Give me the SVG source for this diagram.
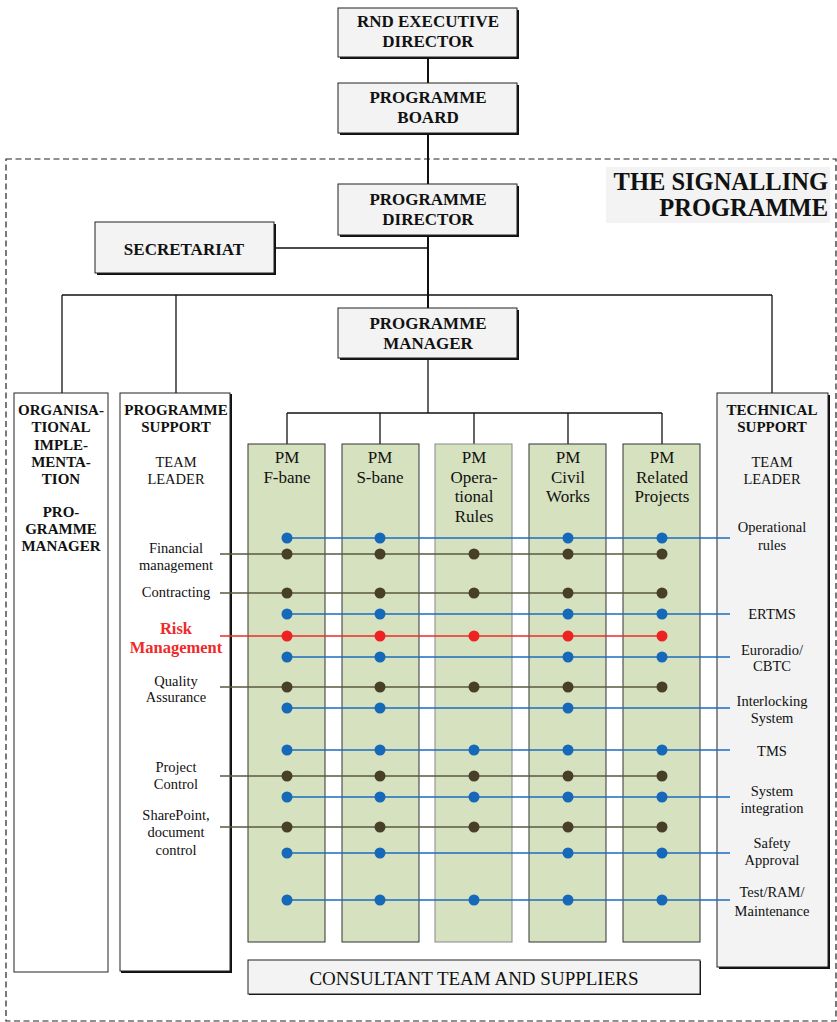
<svg xmlns="http://www.w3.org/2000/svg" width="837" height="1022" viewBox="0 0 837 1022">
<style>
.box{fill:#f2f3f2;stroke:#222;stroke-width:1}
.sh{fill:#111}
.col{fill:#d6e1bf;stroke:#333;stroke-width:1}
.wcol{fill:#fff;stroke:#222;stroke-width:1}
.t{font-family:"Liberation Serif","Times New Roman",serif;fill:#111;text-anchor:middle}
.b{font-weight:bold;font-size:17px}
.bs{font-weight:bold;font-size:15px}
.r{font-size:14.5px}
.pm{font-size:17px}
.ln{stroke:#111;stroke-width:2;fill:none}
.ln1{stroke:#111;stroke-width:1.3;fill:none}
.blue{stroke:#1b6cbe;stroke-width:1.6}
.brown{stroke:#5a5840;stroke-width:1.6}
.red{stroke:#ee2a2a;stroke-width:1.6}
.db{fill:#1668b8}
.dn{fill:#473f28}
.dr{fill:#ee2222}
</style>

<rect x="6" y="159" width="830" height="862" fill="none" stroke="#222" stroke-width="1.2" stroke-dasharray="6,3.5"/>

<g id="title">
<rect x="606" y="167" width="224" height="56" fill="#f2f3f2"/>
<text class="t" x="828" y="190" style="text-anchor:end;font-weight:bold;font-size:24.5px">THE SIGNALLING</text>
<text class="t" x="828" y="216" style="text-anchor:end;font-weight:bold;font-size:24.5px">PROGRAMME</text>
</g>

<g id="connectors">
<line class="ln" x1="428" y1="57" x2="428" y2="83"/>
<line class="ln" x1="428" y1="133" x2="428" y2="184"/>
<line class="ln" x1="428" y1="235" x2="428" y2="308"/>
<line class="ln1" x1="274" y1="248" x2="428" y2="248"/>
<line class="ln1" x1="62" y1="295" x2="772" y2="295"/>
<line class="ln1" x1="62" y1="295" x2="62" y2="393"/>
<line class="ln1" x1="176" y1="295" x2="176" y2="393"/>
<line class="ln1" x1="772" y1="295" x2="772" y2="393"/>
<line class="ln1" x1="428" y1="358" x2="428" y2="413"/>
<line class="ln1" x1="287" y1="413" x2="662" y2="413"/>
<line class="ln1" x1="287" y1="413" x2="287" y2="444"/>
<line class="ln1" x1="380" y1="413" x2="380" y2="444"/>
<line class="ln1" x1="474" y1="413" x2="474" y2="444"/>
<line class="ln1" x1="568" y1="413" x2="568" y2="444"/>
<line class="ln1" x1="662" y1="413" x2="662" y2="444"/>
</g>

<g id="rnd">
<rect class="sh" x="340" y="10" width="179" height="49"/>
<rect class="box" x="338" y="8" width="179" height="49"/>
<text class="t b" x="428" y="27">RND EXECUTIVE</text>
<text class="t b" x="428" y="47">DIRECTOR</text>
</g>
<g id="board">
<rect class="sh" x="340" y="85" width="179" height="50"/>
<rect class="box" x="338" y="83" width="179" height="50"/>
<text class="t b" x="428" y="103">PROGRAMME</text>
<text class="t b" x="428" y="123">BOARD</text>
</g>
<g id="director">
<rect class="sh" x="340" y="186" width="179" height="51"/>
<rect class="box" x="338" y="184" width="179" height="51"/>
<text class="t b" x="428" y="205">PROGRAMME</text>
<text class="t b" x="428" y="225">DIRECTOR</text>
</g>
<g id="secretariat">
<rect class="sh" x="97" y="224" width="179" height="51"/>
<rect class="box" x="95" y="222" width="179" height="51"/>
<text class="t b" x="184" y="255">SECRETARIAT</text>
</g>
<g id="manager">
<rect class="sh" x="340" y="310" width="179" height="50"/>
<rect class="box" x="338" y="308" width="179" height="50"/>
<text class="t b" x="428" y="329">PROGRAMME</text>
<text class="t b" x="428" y="349">MANAGER</text>
</g>

<g id="org">
<rect class="wcol" x="14" y="393" width="94" height="579"/>
<text class="t bs" x="61" y="415">ORGANISA-</text>
<text class="t bs" x="61" y="432">TIONAL</text>
<text class="t bs" x="61" y="450">IMPLE-</text>
<text class="t bs" x="61" y="467">MENTA-</text>
<text class="t bs" x="61" y="484">TION</text>
<text class="t bs" x="61" y="517">PRO-</text>
<text class="t bs" x="61" y="534">GRAMME</text>
<text class="t bs" x="61" y="551">MANAGER</text>
</g>

<g id="support">
<rect class="sh" x="121" y="394" width="111" height="579"/>
<rect class="wcol" x="120" y="393" width="110" height="578"/>
<text class="t bs" x="176" y="415">PROGRAMME</text>
<text class="t bs" x="176" y="432">SUPPORT</text>
<text class="t r" x="176" y="467">TEAM</text>
<text class="t r" x="176" y="484">LEADER</text>
<text class="t r" x="176" y="553">Financial</text>
<text class="t r" x="176" y="570">management</text>
<text class="t r" x="176" y="597">Contracting</text>
<text class="t" x="176" y="634" style="fill:#ee2a2a;font-weight:bold;font-size:16.5px">Risk</text>
<text class="t" x="176" y="653" style="fill:#ee2a2a;font-weight:bold;font-size:16.5px">Management</text>
<text class="t r" x="176" y="686">Quality</text>
<text class="t r" x="176" y="702">Assurance</text>
<text class="t r" x="176" y="772">Project</text>
<text class="t r" x="176" y="789">Control</text>
<text class="t r" x="176" y="820">SharePoint,</text>
<text class="t r" x="176" y="837">document</text>
<text class="t r" x="176" y="855">control</text>
</g>

<g id="technical">
<rect class="sh" x="719" y="395" width="111" height="574"/>
<rect class="box" x="717" y="393" width="111" height="574"/>
<text class="t bs" x="772" y="415">TECHNICAL</text>
<text class="t bs" x="772" y="432">SUPPORT</text>
<text class="t r" x="772" y="467">TEAM</text>
<text class="t r" x="772" y="484">LEADER</text>
<text class="t r" x="772" y="532">Operational</text>
<text class="t r" x="772" y="550">rules</text>
<text class="t r" x="772" y="619">ERTMS</text>
<text class="t r" x="772" y="655">Euroradio/</text>
<text class="t r" x="772" y="671">CBTC</text>
<text class="t r" x="772" y="706">Interlocking</text>
<text class="t r" x="772" y="723">System</text>
<text class="t r" x="772" y="756">TMS</text>
<text class="t r" x="772" y="796">System</text>
<text class="t r" x="772" y="813">integration</text>
<text class="t r" x="772" y="848">Safety</text>
<text class="t r" x="772" y="865">Approval</text>
<text class="t r" x="772" y="897">Test/RAM/</text>
<text class="t r" x="772" y="916">Maintenance</text>
</g>

<g id="pm-fbane">
<rect class="col" x="248" y="444" width="77" height="498"/>
<text class="t pm" x="287" y="463">PM</text>
<text class="t pm" x="287" y="483">F-bane</text>
</g>
<g id="pm-sbane">
<rect class="col" x="342" y="444" width="77" height="498"/>
<text class="t pm" x="380" y="463">PM</text>
<text class="t pm" x="380" y="483">S-bane</text>
</g>
<g id="pm-oprules">
<rect class="col" x="435" y="444" width="77" height="498" style="stroke:#888"/>
<text class="t pm" x="474" y="463">PM</text>
<text class="t pm" x="474" y="483">Opera-</text>
<text class="t pm" x="474" y="502">tional</text>
<text class="t pm" x="474" y="522">Rules</text>
</g>
<g id="pm-civil">
<rect class="col" x="529" y="444" width="77" height="498"/>
<text class="t pm" x="568" y="463">PM</text>
<text class="t pm" x="568" y="483">Civil</text>
<text class="t pm" x="568" y="502">Works</text>
</g>
<g id="pm-related">
<rect class="col" x="623" y="444" width="77" height="498"/>
<text class="t pm" x="662" y="463">PM</text>
<text class="t pm" x="662" y="483">Related</text>
<text class="t pm" x="662" y="502">Projects</text>
</g>

<g id="consultant">
<rect class="sh" x="249" y="961" width="452" height="34"/>
<rect class="box" x="248" y="960" width="452" height="34"/>
<text class="t" x="474" y="985" style="font-size:19px">CONSULTANT TEAM AND SUPPLIERS</text>
</g>

<g id="matrix">
<line class="blue" x1="287" y1="538" x2="730" y2="538"/>
<line class="brown" x1="220" y1="554" x2="662" y2="554"/>
<line class="brown" x1="220" y1="593" x2="662" y2="593"/>
<line class="blue" x1="287" y1="614" x2="730" y2="614"/>
<line class="red" x1="220" y1="636" x2="662" y2="636"/>
<line class="blue" x1="287" y1="657" x2="730" y2="657"/>
<line class="brown" x1="220" y1="687" x2="662" y2="687"/>
<line class="blue" x1="287" y1="708" x2="730" y2="708"/>
<line class="blue" x1="287" y1="750" x2="730" y2="750"/>
<line class="brown" x1="220" y1="776" x2="662" y2="776"/>
<line class="blue" x1="287" y1="797" x2="730" y2="797"/>
<line class="brown" x1="220" y1="827" x2="662" y2="827"/>
<line class="blue" x1="287" y1="853" x2="730" y2="853"/>
<line class="blue" x1="287" y1="900" x2="730" y2="900"/>

<g class="db">
<circle cx="287" cy="538" r="5.5"/><circle cx="380" cy="538" r="5.5"/><circle cx="568" cy="538" r="5.5"/><circle cx="662" cy="538" r="5.5"/>
<circle cx="287" cy="614" r="5.5"/><circle cx="380" cy="614" r="5.5"/><circle cx="568" cy="614" r="5.5"/><circle cx="662" cy="614" r="5.5"/>
<circle cx="287" cy="657" r="5.5"/><circle cx="380" cy="657" r="5.5"/><circle cx="568" cy="657" r="5.5"/><circle cx="662" cy="657" r="5.5"/>
<circle cx="287" cy="708" r="5.5"/><circle cx="380" cy="708" r="5.5"/><circle cx="568" cy="708" r="5.5"/>
<circle cx="287" cy="750" r="5.5"/><circle cx="380" cy="750" r="5.5"/><circle cx="474" cy="750" r="5.5"/><circle cx="568" cy="750" r="5.5"/><circle cx="662" cy="750" r="5.5"/>
<circle cx="287" cy="797" r="5.5"/><circle cx="380" cy="797" r="5.5"/><circle cx="474" cy="797" r="5.5"/><circle cx="568" cy="797" r="5.5"/><circle cx="662" cy="797" r="5.5"/>
<circle cx="287" cy="853" r="5.5"/><circle cx="380" cy="853" r="5.5"/><circle cx="568" cy="853" r="5.5"/><circle cx="662" cy="853" r="5.5"/>
<circle cx="287" cy="900" r="5.5"/><circle cx="380" cy="900" r="5.5"/><circle cx="474" cy="900" r="5.5"/><circle cx="568" cy="900" r="5.5"/><circle cx="662" cy="900" r="5.5"/>
</g>
<g class="dn">
<circle cx="287" cy="554" r="5.5"/><circle cx="380" cy="554" r="5.5"/><circle cx="474" cy="554" r="5.5"/><circle cx="568" cy="554" r="5.5"/><circle cx="662" cy="554" r="5.5"/>
<circle cx="287" cy="593" r="5.5"/><circle cx="380" cy="593" r="5.5"/><circle cx="474" cy="593" r="5.5"/><circle cx="568" cy="593" r="5.5"/><circle cx="662" cy="593" r="5.5"/>
<circle cx="287" cy="687" r="5.5"/><circle cx="380" cy="687" r="5.5"/><circle cx="474" cy="687" r="5.5"/><circle cx="568" cy="687" r="5.5"/><circle cx="662" cy="687" r="5.5"/>
<circle cx="287" cy="776" r="5.5"/><circle cx="380" cy="776" r="5.5"/><circle cx="474" cy="776" r="5.5"/><circle cx="568" cy="776" r="5.5"/><circle cx="662" cy="776" r="5.5"/>
<circle cx="287" cy="827" r="5.5"/><circle cx="380" cy="827" r="5.5"/><circle cx="474" cy="827" r="5.5"/><circle cx="568" cy="827" r="5.5"/><circle cx="662" cy="827" r="5.5"/>
</g>
<g class="dr">
<circle cx="287" cy="636" r="5.5"/><circle cx="380" cy="636" r="5.5"/><circle cx="474" cy="636" r="5.5"/><circle cx="568" cy="636" r="5.5"/><circle cx="662" cy="636" r="5.5"/>
</g>
</g>
</svg>
